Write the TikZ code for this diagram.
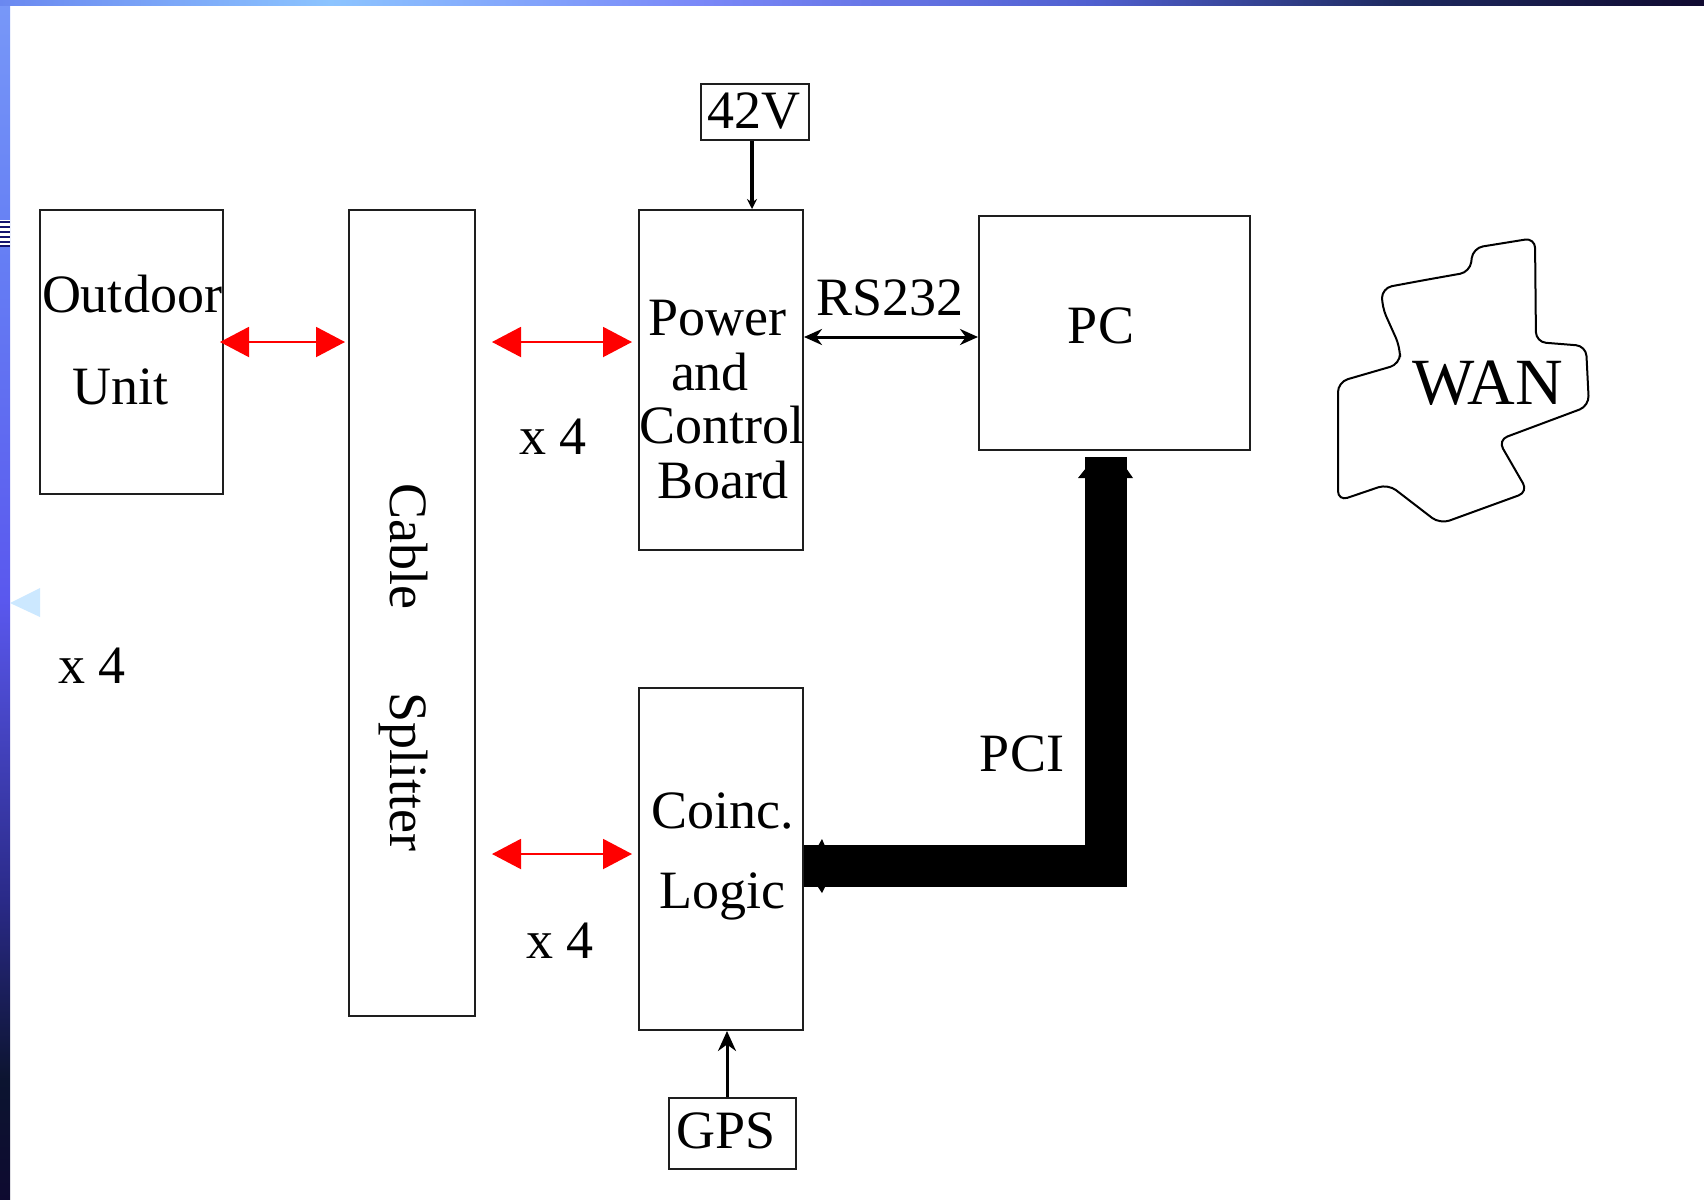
\documentclass[tikz,border=0pt]{standalone}
\usepackage{fontspec}
\setmainfont{Liberation Serif}
\usetikzlibrary{arrows.meta}
\definecolor{boxc}{HTML}{1E1E1E}
\definecolor{lb1}{HTML}{7898F8}
\definecolor{lb2}{HTML}{6680F4}
\definecolor{lb3}{HTML}{5A58EE}
\definecolor{lb4}{HTML}{2A2A88}
\definecolor{lb5}{HTML}{0C1430}
\definecolor{lb6}{HTML}{0E0A30}
\definecolor{tb1}{HTML}{6A88F0}
\definecolor{tb2}{HTML}{8CC4FF}
\definecolor{tb3}{HTML}{7A88F8}
\definecolor{tb4}{HTML}{5060D0}
\definecolor{tb5}{HTML}{1E2A60}
\definecolor{tb6}{HTML}{100A30}
\definecolor{stripec}{HTML}{14146E}
\definecolor{trianc}{HTML}{CCE8FF}
\pgfdeclareverticalshading{leftbar}{100bp}{color(0bp)=(lb6); color(25bp)=(lb6); color(30bp)=(lb5); color(37.5bp)=(lb4); color(50bp)=(lb3); color(65bp)=(lb2); color(75bp)=(lb1); color(100bp)=(lb1)}
\pgfdeclarehorizontalshading{topbar}{100bp}{color(0bp)=(tb1); color(25bp)=(tb1); color(34.7bp)=(tb2); color(45.5bp)=(tb3); color(57bp)=(tb4); color(66bp)=(tb5); color(75bp)=(tb6); color(100bp)=(tb6)}
\begin{document}
\begin{tikzpicture}[x=0.5pt,y=-0.5pt,
  box/.style={draw=boxc, line width=1pt, inner sep=0pt},
  lbl/.style={anchor=base, inner sep=0pt, font=\fontsize{27}{32}\selectfont},
  redarr/.style={red, line width=1pt, arrows={Triangle[length=14.5pt,width=15pt]-Triangle[length=14.5pt,width=15pt]}},
  blkarr/.style={black, line width=1.5pt, arrows={Stealth[length=9pt,width=8pt]-Stealth[length=9pt,width=8pt]}},
  feed/.style={black, line width=1.5pt, arrows={-Stealth[length=10pt,width=9pt]}},
  pci/.style={black, line width=21pt, line join=miter, line cap=butt}
]
\useasboundingbox (0,0) rectangle (1704,1200);
\fill[white] (0,0) rectangle (1704,1200);
% slide frame
\shade[shading=leftbar] (0,0) rectangle (10,1200);
\shade[shading=topbar] (0,0) rectangle (1704,5);
\fill[white] (0,220) rectangle (10,247);
\foreach \yy in {222,227,232,237,242,246}
  \draw[stripec, line width=1pt] (0,\yy) -- (10,\yy);
\fill[trianc] (10,603) -- (40,588) -- (40,617) -- cycle;

% boxes
\node[box, minimum width=91.5pt, minimum height=142pt] (outdoor) at (131.5,352) {};
\node[box, minimum width=63pt, minimum height=403pt] (splitter) at (412,613) {};
\node[box, minimum width=82pt, minimum height=170pt] (power) at (721,380) {};
\node[box, minimum width=135.5pt, minimum height=117pt] (pc) at (1114.5,333) {};
\node[box, minimum width=82pt, minimum height=171pt] (coinc) at (721,859) {};
\node[box, minimum width=54pt, minimum height=28pt] (v42) at (755,112) {};
\node[box, minimum width=63.5pt, minimum height=35.5pt] (gps) at (732.5,1133.5) {};

% texts
\node[lbl] (t-outdoor) at (132,312) {Outdoor};
\node[lbl] (t-unit) at (121,404) {Unit};
\node[lbl, anchor=base west, rotate=-90] (t-cable) at (390,483) {Cable};
\node[lbl, anchor=base west, rotate=-90] (t-splitter) at (390,692) {Splitter};
\node[lbl] (t-power) at (717,335) {Power};
\node[lbl] (t-and) at (710,390) {and};
\node[lbl] (t-control) at (722,443) {Control};
\node[lbl] (t-board) at (723,498) {Board};
\node[lbl] (t-rs) at (890,315) {RS232};
\node[lbl] (t-pc) at (1101,343) {PC};
\node[lbl, font=\fontsize{33}{38}\selectfont] (t-wan) at (1488,404) {WAN};
\node[lbl] (t-x4a) at (553,454) {x 4};
\node[lbl] (t-x4b) at (92,683) {x 4};
\node[lbl] (t-x4c) at (560,958) {x 4};
\node[lbl] (t-pci) at (1022,771) {PCI};
\node[lbl] (t-coinc) at (723,828) {Coinc.};
\node[lbl] (t-logic) at (722,908) {Logic};
\node[lbl] (t-42v) at (754,128) {42V};
\node[lbl] (t-gps) at (726,1148) {GPS};

% WAN cloud
\draw[black, line width=1pt, rounded corners=5pt]
  (1425,280) -- (1470,272) -- (1473,248) -- (1535,238) -- (1536,342)
  -- (1586,346) -- (1589,406) -- (1498,440) -- (1528,492) -- (1440,524)
  -- (1388,484) -- (1338,501) -- (1338,382) -- (1400,364) -- (1400,347)
  -- (1382,307) -- (1382,288) -- cycle;

% connectors
\coordinate (r1) at (0,342);
\coordinate (r2) at (0,337);
\coordinate (r3) at (0,854);
\draw[redarr] ([xshift=-2pt]outdoor.east |- r1) -- ([xshift=-1.5pt]splitter.west |- r1);
\draw[redarr] ([xshift=8pt]splitter.east |- r1) -- ([xshift=-3pt]power.west |- r1);
\draw[redarr] ([xshift=8pt]splitter.east |- r3) -- ([xshift=-3pt]coinc.west |- r3);
\draw[blkarr] (power.east |- r2) -- (pc.west |- r2);
\draw[black, line width=1.6pt, arrows={-Stealth[length=5pt,width=5pt]}] ([xshift=-1.5pt]v42.south) -- ([xshift=-1.5pt]v42.south |- power.north);
\draw[feed] ([xshift=-2.75pt]gps.north) -- ([xshift=-2.75pt]gps.north |- coinc.south);
\draw[pci] ([xshift=-4.25pt,yshift=-3pt]pc.south) |- ([yshift=-3.5pt]coinc.east);
\fill[black] (1078,478) -- (1086,468) -- (1086,478) -- cycle;
\fill[black] (1133,478) -- (1126,468) -- (1126,478) -- cycle;
\fill[black] (818,846) -- (822,839) -- (825,846) -- cycle;
\fill[black] (818,887) -- (822,893) -- (825,887) -- cycle;
\end{tikzpicture}
\end{document}
